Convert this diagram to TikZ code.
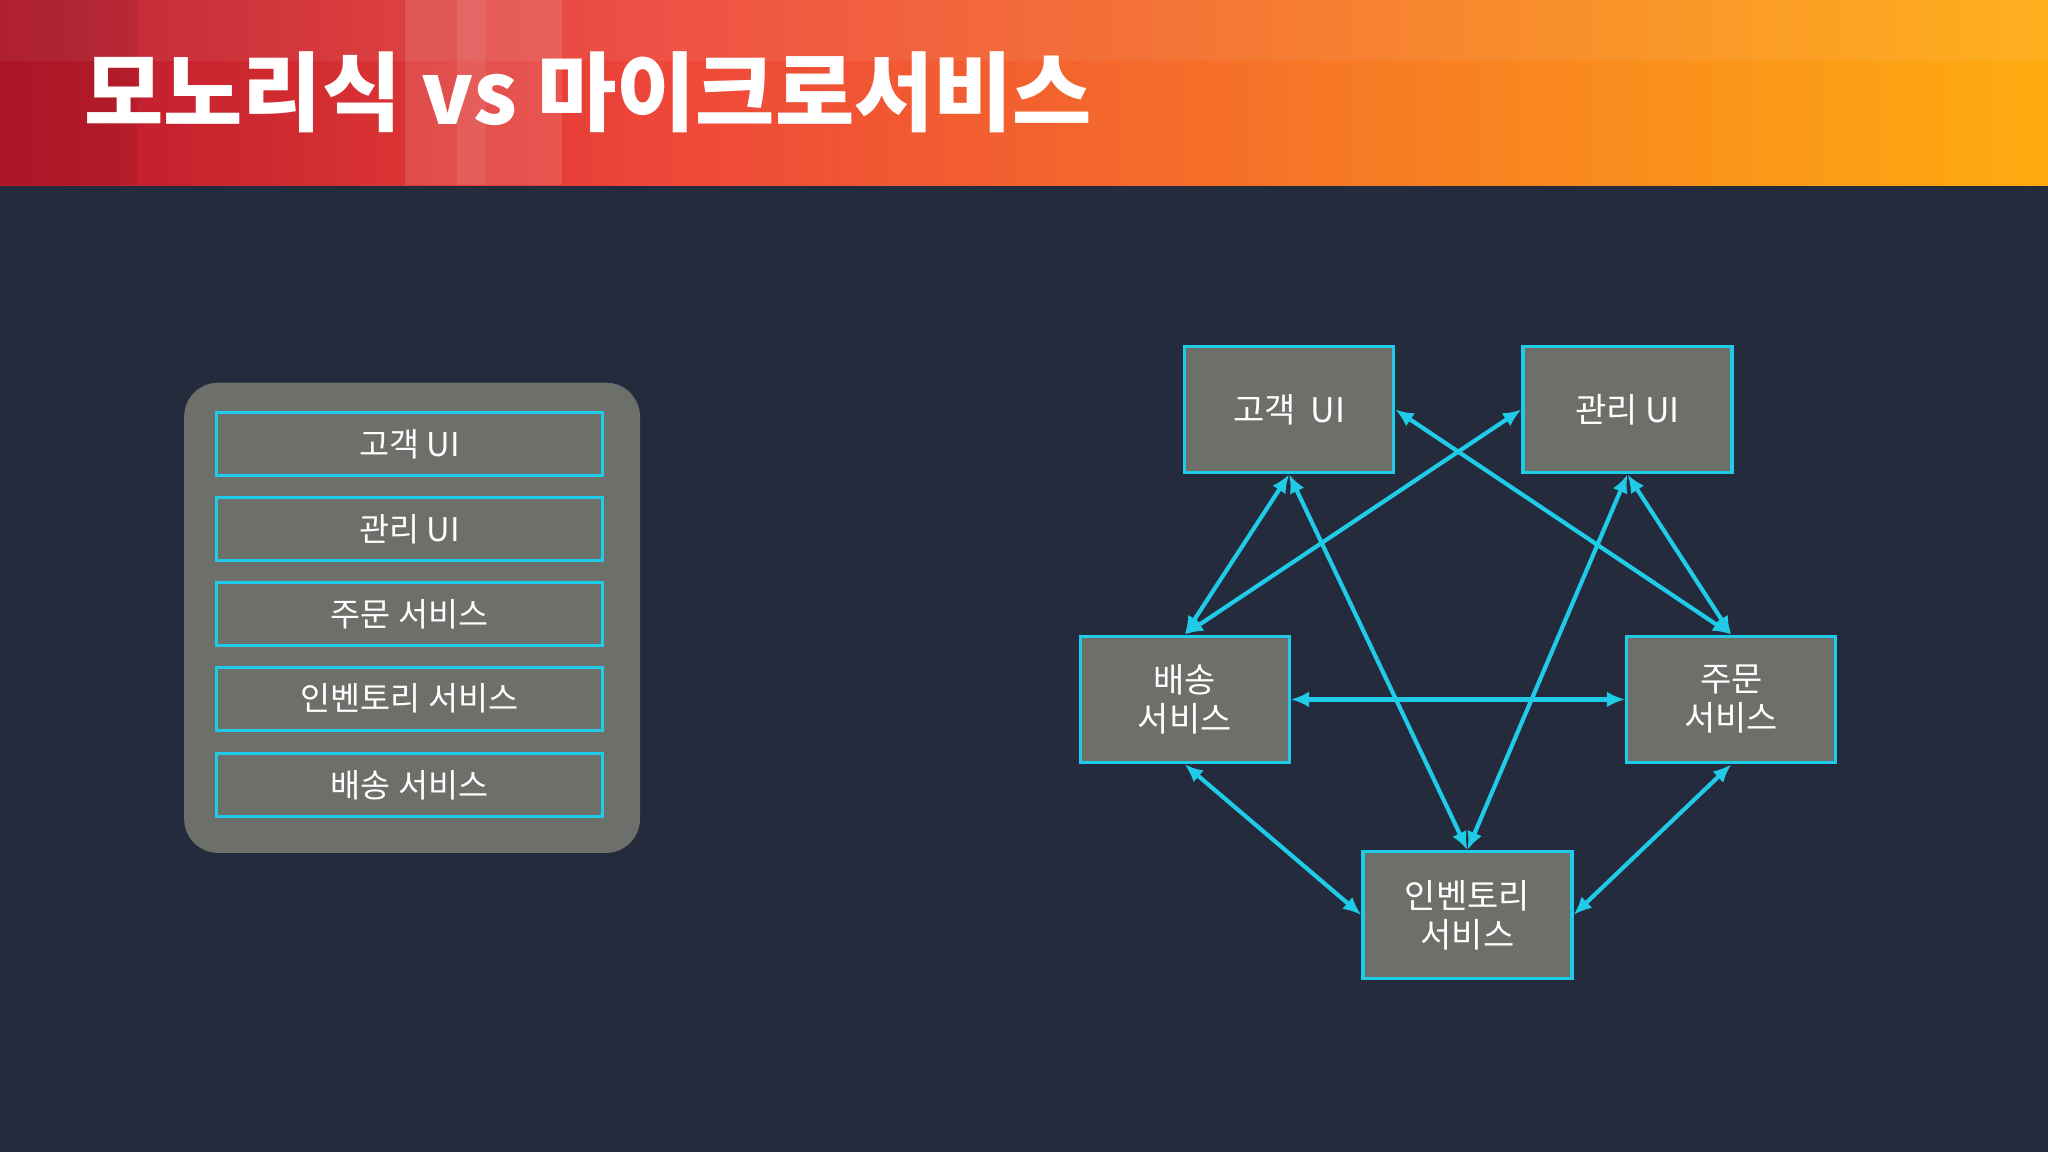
\documentclass[tikz,border=0pt]{standalone}
\usepackage{fontspec}
\newfontfamily\cjk{Noto Sans CJK KR}
\usetikzlibrary{arrows.meta}
\definecolor{bg}{HTML}{232B3D}
\definecolor{boxg}{HTML}{6D6F6A}
\definecolor{cy}{HTML}{1FCBE6}
\tikzset{
 svc/.style={draw=cy,line width=1.2pt,fill=boxg,minimum width=80pt,minimum height=48.5pt,inner sep=0pt,align=center,text=white,font=\cjk\fontsize{13}{15}\selectfont},
 row/.style={draw=cy,line width=1.2pt,fill=boxg,minimum width=147.5pt,minimum height=24pt,inner sep=0pt,text=white,font=\cjk\fontsize{12.5}{14}\selectfont},
 link/.style={cy,line width=1.6pt,{Latex[length=7pt,width=6pt]}-{Latex[length=7pt,width=6pt]}}
}
\begin{document}
\begin{tikzpicture}[x=0.5pt,y=-0.5pt]
\useasboundingbox (0,0) rectangle (1568,882);
\fill[bg] (0,0) rectangle (1568,882);
\shade[left color={rgb,255:red,185;green,22;blue,42}, right color={rgb,255:red,238;green,70;blue,58}] (0,0) rectangle (500,142);
\shade[left color={rgb,255:red,238;green,70;blue,58}, middle color={rgb,255:red,255;green,125;blue,45}, right color={rgb,255:red,255;green,172;blue,16}] (499,0) rectangle (1568,142);
\fill[white,opacity=0.06] (0,0) rectangle (1568,47);
\fill[black,opacity=0.08] (0,0) rectangle (105,142);
\fill[white,opacity=0.12] (310,0) rectangle (430,142);
\fill[white,opacity=0.08] (350,0) rectangle (372,142);
\node[anchor=base west,text=white,font=\cjk\bfseries\fontsize{33}{40}\selectfont,inner sep=0pt] (title) at (64,95) {모노리식 vs 마이크로서비스};
% monolith
\fill[boxg,rounded corners=13pt] (141,293) rectangle (490,653);
\node[row] (r1) at (313.5,340) {고객 UI};
\node[row] (r2) at (313.5,405) {관리 UI};
\node[row] (r3) at (313.5,470) {주문 서비스};
\node[row] (r4) at (313.5,535) {인벤토리 서비스};
\node[row] (r5) at (313.5,601) {배송 서비스};
% micro
\node[svc] (g) at (987,313.5) {고객\ \ UI};
\node[svc] (k) at (1246,313.5) {관리 UI};
\node[svc] (b) at (907,535.5) {배송\\서비스};
\node[svc] (j) at (1325.5,535.5) {주문\\서비스};
\node[svc] (i) at (1123.5,700.5) {인벤토리\\서비스};
\draw[link] (g.south) -- (b.north);
\draw[link] (k.west) -- (b.north);
\draw[link] (g.east) -- (j.north);
\draw[link] (k.south) -- (j.north);
\draw[link] (g.south) -- (i.north);
\draw[link] (k.south) -- (i.north);
\draw[link] (b.east) -- (j.west);
\draw[link] (b.south) -- (i.west);
\draw[link] (j.south) -- (i.east);
\end{tikzpicture}
\end{document}
